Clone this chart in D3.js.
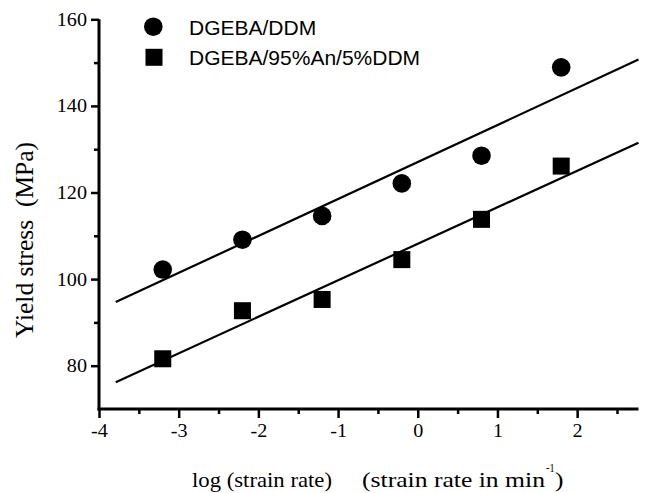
<!DOCTYPE html>
<html><head><meta charset="utf-8">
<script src="https://cdn.jsdelivr.net/npm/d3@7"></script>
<style>body{margin:0;background:#fff}svg{display:block}</style>
</head><body>
<svg id="c" width="648" height="493"></svg>
<script>
const xValues = [-3.2, -2.2, -1.2, -0.2, 0.8, 1.8];
const ddm = [102.2, 109.1, 114.6, 122.1, 128.5, 148.9];
const an95 = [81.6, 92.7, 95.3, 104.5, 113.8, 126.1];
const fitX = [-3.79, 2.77];
const fitDdm = [94.7, 150.7];
const fitAn = [76.2, 131.5];
const xTicks = [-4, -3, -2, -1, 0, 1, 2];
const xMinor = [-3.5, -2.5, -1.5, -0.5, 0.5, 1.5, 2.5];
const yTicks = [80, 100, 120, 140, 160];
const yMinor = [90, 110, 130, 150];
const seriesNames = ["DGEBA/DDM", "DGEBA/95%An/5%DDM"];

const svg = d3.select("#c");
const x = d3.scaleLinear().domain([-4, 2.77]).range([99, 638.5]);
const y = d3.scaleLinear().domain([70, 160]).range([409, 19.3]);
const serif = "'Liberation Serif','Times New Roman',serif";
const sans = "'Liberation Sans',Arial,sans-serif";
const stretch = 1.12;

// fit lines
const line = d3.line().x(d => x(d[0])).y(d => y(d[1]));
[fitDdm, fitAn].forEach(f => {
  svg.append("path").attr("d", line(fitX.map((v, i) => [v, f[i]])))
    .attr("fill", "none").attr("stroke", "#000").attr("stroke-width", 2.2);
});

// points
svg.append("g").selectAll("circle").data(xValues).join("circle")
  .attr("cx", d => x(d)).attr("cy", (d, i) => y(ddm[i])).attr("r", 9.3).attr("fill", "#000");
const s = 17;
svg.append("g").selectAll("rect").data(xValues).join("rect")
  .attr("x", d => x(d) - s / 2).attr("y", (d, i) => y(an95[i]) - s / 2)
  .attr("width", s).attr("height", s).attr("fill", "#000");

// legend
svg.append("circle").attr("cx", 153.3).attr("cy", 26.7).attr("r", 9.3).attr("fill", "#000");
svg.append("rect").attr("x", 154 - s / 2).attr("y", 57.3 - s / 2).attr("width", s).attr("height", s).attr("fill", "#000");
svg.append("text").attr("x", 189).attr("y", 34.5).attr("font-family", sans).attr("font-size", 21).text(seriesNames[0]);
svg.append("text").attr("x", 189).attr("y", 65).attr("font-family", sans).attr("font-size", 21).text(seriesNames[1]);

// axis titles
const tFont = 22;
svg.append("text").attr("x", 192).attr("y", 486.5).attr("font-family", serif).attr("font-size", tFont)
  .attr("textLength", 140).attr("lengthAdjust", "spacingAndGlyphs").text("log (strain rate)");
svg.append("text").attr("x", 362).attr("y", 486.5).attr("font-family", serif).attr("font-size", tFont)
  .attr("textLength", 183).attr("lengthAdjust", "spacingAndGlyphs").text("(strain rate in min");
svg.append("text").attr("x", 546).attr("y", 472).attr("font-family", serif).attr("font-size", 13)
  .attr("textLength", 8.5).attr("lengthAdjust", "spacingAndGlyphs").text("-1");
svg.append("text").attr("x", 555).attr("y", 486.5).attr("font-family", serif).attr("font-size", tFont)
  .attr("textLength", 8.5).attr("lengthAdjust", "spacingAndGlyphs").text(")");
svg.append("text").attr("transform", "translate(33,240) rotate(-90)").attr("text-anchor", "middle")
  .attr("font-family", serif).attr("font-size", 25).attr("fill", "#000")
  .attr("textLength", 196).attr("lengthAdjust", "spacingAndGlyphs")
  .style("white-space", "pre").text("Yield stress  (MPa)");

// axes (drawn last)
const xAxisMinor = svg.append("g").attr("transform", `translate(0,${y(70)})`)
  .call(d3.axisBottom(x).tickValues(xMinor).tickSize(5).tickFormat(""));
xAxisMinor.select(".domain").remove();
xAxisMinor.selectAll(".tick text").remove();
xAxisMinor.selectAll(".tick line").attr("stroke", "#000").attr("stroke-width", 2.5);
const yAxisMinor = svg.append("g").attr("transform", `translate(${x(-4)},0)`)
  .call(d3.axisLeft(y).tickValues(yMinor).tickSize(5).tickFormat(""));
yAxisMinor.select(".domain").remove();
yAxisMinor.selectAll(".tick text").remove();
yAxisMinor.selectAll(".tick line").attr("stroke", "#000").attr("stroke-width", 2.5);

const xAxis = svg.append("g").attr("transform", `translate(0,${y(70)})`)
  .call(d3.axisBottom(x).tickValues(xTicks).tickSize(9).tickFormat(d => d < 0 ? "-" + Math.abs(d) : String(d)));
const yAxis = svg.append("g").attr("transform", `translate(${x(-4)},0)`)
  .call(d3.axisLeft(y).tickValues(yTicks).tickSize(8));
[xAxis, yAxis].forEach(g => {
  g.select(".domain").remove();
  g.selectAll(".tick line").attr("stroke", "#000").attr("stroke-width", 2.5);
  g.selectAll(".tick text").attr("font-family", serif).attr("font-size", 18).attr("fill", "#000");
});
yAxis.selectAll(".tick text").attr("dy", null).attr("x", -12 / stretch).attr("y", 6)
  .attr("transform", `scale(${stretch},1)`);
xAxis.selectAll(".tick text").attr("dy", null).attr("y", 28).attr("transform", `scale(${stretch},1)`);
svg.append("line").attr("x1", x(-4) - 1.5).attr("x2", x(2.77)).attr("y1", y(70)).attr("y2", y(70))
  .attr("stroke", "#000").attr("stroke-width", 3);
svg.append("line").attr("x1", x(-4)).attr("x2", x(-4)).attr("y1", y(70) + 1.5).attr("y2", y(160))
  .attr("stroke", "#000").attr("stroke-width", 3);
</script>
</body></html>
